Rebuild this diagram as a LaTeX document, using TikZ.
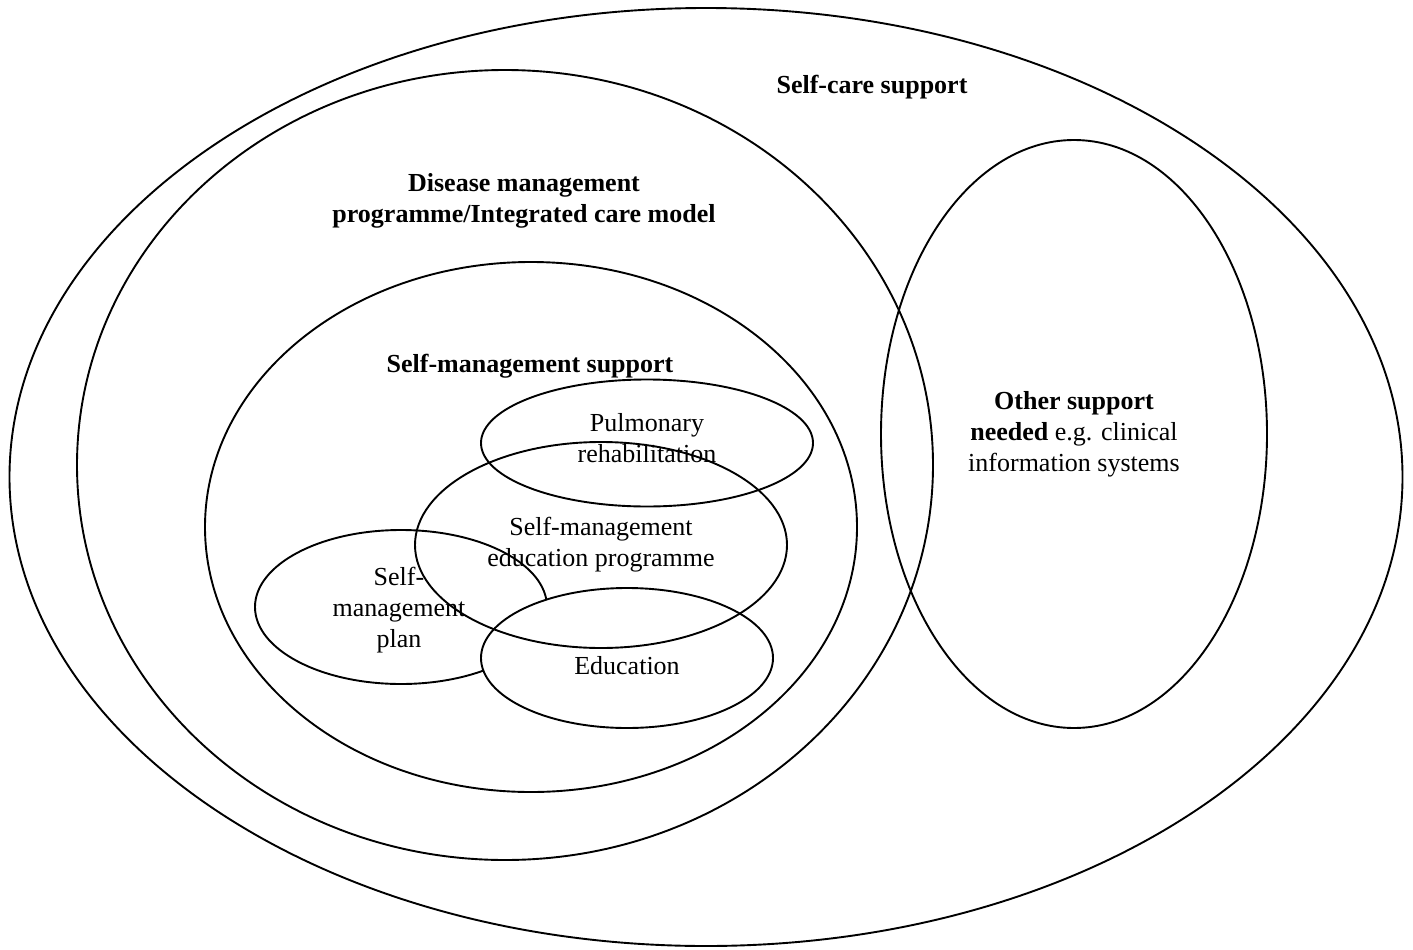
\documentclass[tikz,border=0pt]{standalone}
\usepackage{fontspec}
\setmainfont{Liberation Serif}
\usetikzlibrary{shapes.geometric}
\begin{document}
\begin{tikzpicture}[x=1pt,y=-1pt,
  ring/.style={draw,ellipse,line width=1.9pt,inner sep=0pt},
  lbl/.style={align=center,inner sep=0pt,font=\fontsize{26}{31}\selectfont},
  blbl/.style={lbl,font=\fontsize{26}{31}\selectfont\bfseries}]
\useasboundingbox (0,0) rectangle (1413,950);
% nested support areas
\node[ring,minimum width=1393pt,minimum height=938pt] (selfcare) at (706,477) {};
\node[ring,minimum width=856pt,minimum height=790pt] (disease) at (505,465) {};
\node[ring,minimum width=652pt,minimum height=530pt] (selfman) at (531,527) {};
\node[ring,minimum width=386pt,minimum height=588pt] (other) at (1074,434) {};
% components of self-management support
\node[ring,minimum width=292pt,minimum height=154pt] (plan) at (401,607) {};
\node[ring,fill=white,minimum width=292pt,minimum height=140pt] (edu) at (627,658) {};
\node[ring,minimum width=372pt,minimum height=206pt] (eduprog) at (601,545) {};
\node[ring,minimum width=332pt,minimum height=127pt] (pulm) at (647,443) {};
% labels
\node[blbl] (tselfcare) at (872,87) {Self-care support};
\node[blbl] (tdisease) at (524,201) {Disease management\\programme/Integrated care model};
\node[blbl] (tselfman) at (530,366) {Self-management support};
\node[lbl] (tpulm) at (647,438) {Pulmonary\\rehabilitation};
\node[lbl] (teduprog) at (601,545) {Self-management\\education programme};
\node[lbl] (tplan) at (399,610) {Self-\\management\\plan};
\node[lbl] (tedu) at (627,666) {Education};
\node[lbl] (tother) at (1074,434) {\textbf{Other support}\\\textbf{needed} e.g. clinical\\information systems};
\end{tikzpicture}
\end{document}
